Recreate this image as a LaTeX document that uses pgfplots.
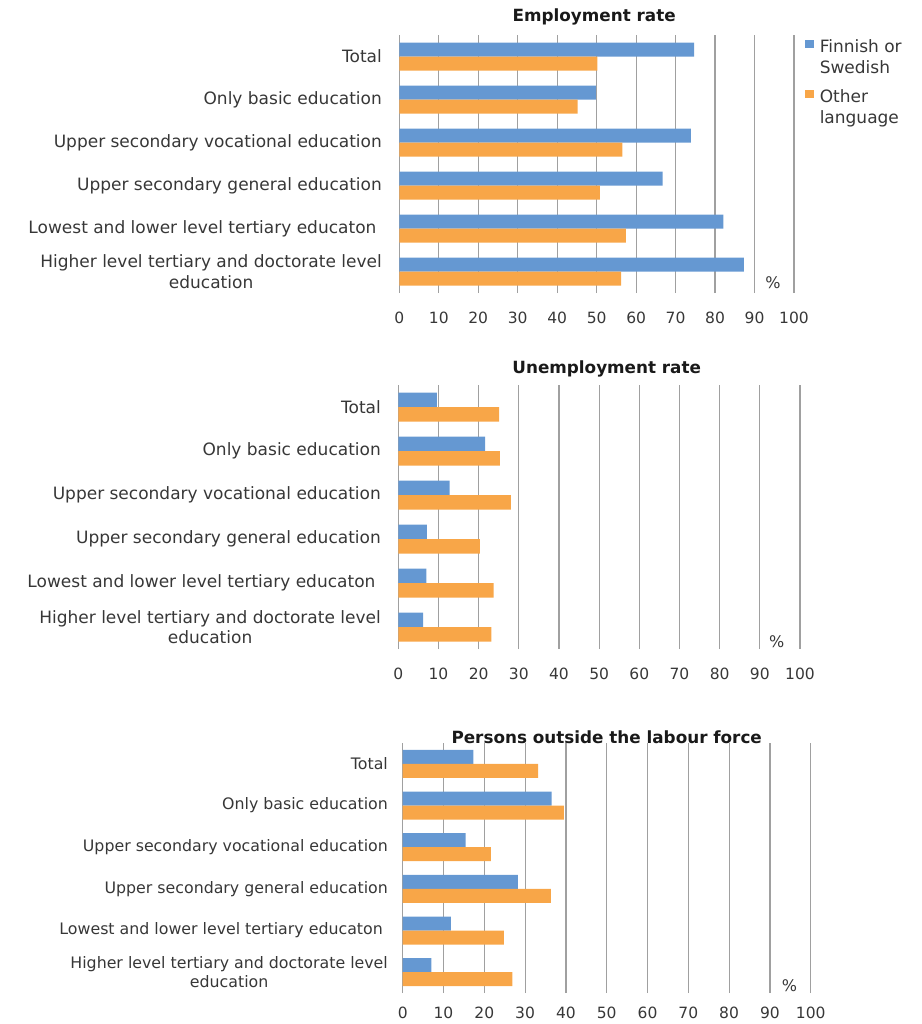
\documentclass[border=0pt]{standalone}
\usepackage{pgfplots}
\usepackage{pgfplotstable}
\pgfplotsset{compat=1.18}
\usepackage{fontspec}
\setmainfont{DejaVu Sans}
\definecolor{fblue}{RGB}{101,152,210}
\definecolor{oorange}{RGB}{248,166,72}
\definecolor{gridgray}{RGB}{160,160,160}
\definecolor{txt}{RGB}{55,55,55}

\pgfplotstableread{
y fin oth
5 74.7 50.2
4 49.8 45.2
3 73.9 56.5
2 66.7 50.8
1 82.1 57.4
0 87.3 56.2
}\emp
\pgfplotstableread{
y fin oth
5 9.6 25.1
4 21.6 25.3
3 12.8 28.0
2 7.1 20.3
1 7.0 23.7
0 6.2 23.2
}\unemp
\pgfplotstableread{
y fin oth
5 17.3 33.2
4 36.5 39.5
3 15.4 21.6
2 28.2 36.3
1 11.8 24.8
0 7.0 26.9
}\outside

\pgfplotsset{
 mypanel/.style={
  scale only axis, anchor=south west,
  xmin=0, xmax=100, xtick={0,10,...,100},
  ymin=-0.5, ymax=5.5, ytick={0,...,5},
  xmajorgrids, grid style={gridgray, line width=1.2pt},
  axis line style={draw=none}, tick style={draw=none},
  xbar,
  /pgf/number format/assume math mode=true,
  yticklabels={{Higher level tertiary and doctorate level\\education},{Lowest and lower level tertiary educaton~},{Upper secondary general education},{Upper secondary vocational education},{Only basic education},{Total}},
  yticklabel style={align=center, inner sep=0pt, text=txt},
  xticklabel style={inner sep=0pt, yshift=-18.5pt, text=txt, font=\fontsize{15.5}{18}\selectfont},
  clip=false,
 }
}

\begin{document}
\begin{tikzpicture}
\useasboundingbox (0,0) rectangle (921pt,-1024pt);

% Panel 1
\begin{axis}[mypanel, at={(399.3pt,-293pt)}, width=394.7pt, height=258pt,
  yticklabel style={xshift=-13pt, font=\fontsize{17}{20.5}\selectfont},
  legend style={at={(1.028,0.99)}, anchor=north west, draw=none, fill=none, inner sep=0pt,
    font=\fontsize{17}{20.5}\selectfont, text=txt, cells={align=left}, row sep=11pt,
    /tikz/every odd column/.append style={column sep=4pt}},
  legend cell align=left,
  legend image code/.code={\fill[#1] (0pt,9pt) rectangle (8.5pt,17.5pt);},
]
\addplot[fill=fblue, draw=none, bar width=14pt, bar shift=7pt] table[x=fin,y=y]{\emp};
\addplot[fill=oorange, draw=none, bar width=14pt, bar shift=-7pt] table[x=oth,y=y]{\emp};
\legend{{Finnish or\\Swedish},{Other\\language}}
\end{axis}

% Panel 2
\begin{axis}[mypanel, at={(398.3pt,-649pt)}, width=401.7pt, height=264pt,
  yticklabel style={xshift=-13pt, font=\fontsize{17}{20.5}\selectfont},
]
\addplot[fill=fblue, draw=none, bar width=14.5pt, bar shift=7.25pt] table[x=fin,y=y]{\unemp};
\addplot[fill=oorange, draw=none, bar width=14.5pt, bar shift=-7.25pt] table[x=oth,y=y]{\unemp};
\end{axis}

% Panel 3
\begin{axis}[mypanel, at={(402.7pt,-993pt)}, width=408pt, height=250pt,
  yticklabel style={xshift=-10.4pt, font=\fontsize{15.8}{18.5}\selectfont},
  xticklabel style={yshift=4.5pt},
]
\addplot[fill=fblue, draw=none, bar width=14pt, bar shift=7pt] table[x=fin,y=y]{\outside};
\addplot[fill=oorange, draw=none, bar width=14pt, bar shift=-7pt] table[x=oth,y=y]{\outside};
\end{axis}

% Titles and unit labels
\node[font=\bfseries\fontsize{16.8}{20}\selectfont, text=black!90] at (594.2pt,-17pt) {Employment rate};
\node[font=\bfseries\fontsize{16.8}{20}\selectfont, text=black!90] at (606.7pt,-369pt) {Unemployment rate};
\node[font=\bfseries\fontsize{16.8}{20}\selectfont, text=black!90] at (606.7pt,-737pt) {Persons outside the labour force};
\node[font=\fontsize{16}{19}\selectfont, text=txt] at (773pt,-283pt) {\%};
\node[font=\fontsize{16}{19}\selectfont, text=txt] at (776.7pt,-641.7pt) {\%};
\node[font=\fontsize{16}{19}\selectfont, text=txt] at (789.5pt,-986pt) {\%};
\end{tikzpicture}
\end{document}
